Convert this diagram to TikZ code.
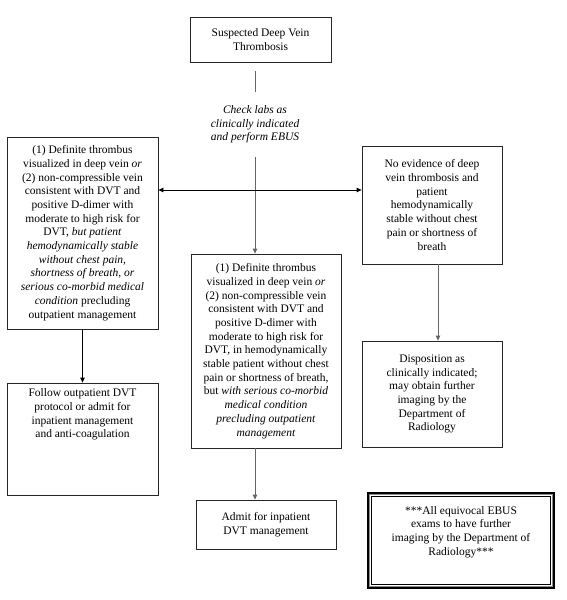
\documentclass[tikz,border=0pt]{standalone}
\usepackage{fontspec}
\setmainfont{Liberation Serif}
\usetikzlibrary{arrows.meta,calc}
\begin{document}
\begin{tikzpicture}[x=1pt,y=-1pt,
  txt/.style={align=center, inner sep=0pt, font=\fontsize{11.5}{13.7}\selectfont},
  box/.style={txt, draw=black!85, line width=0.8pt},
  conn/.style={draw=black!60, line width=0.8pt},
  arr/.style={conn, -{Triangle[length=5pt,width=4.5pt]}},
  darr/.style={arr, draw=black},
  harr/.style={draw=black, line width=0.8pt, {Triangle[length=5pt,width=4.5pt]}-{Triangle[length=5pt,width=4.5pt]}},
]
\useasboundingbox (0,0) rectangle (566,600);

% boxes
\node[box, minimum width=141, minimum height=45] (top) at (260.5,39.5)
  {Suspected Deep Vein\\Thrombosis};

\node[txt, font=\fontsize{11.5}{13.7}\selectfont\itshape, minimum height=65] (check) at (255,124.5)
  {Check labs as\\clinically indicated\\and perform EBUS};

\node[box, minimum width=151, minimum height=192] (left) at (82.5,233)
  {(1) Definite thrombus\\
   visualized in deep vein \textit{or}\\
   (2) non-compressible vein\\
   consistent with DVT and\\
   positive D-dimer with\\
   moderate to high risk for\\
   DVT, \textit{but patient}\\
   \textit{hemodynamically stable}\\
   \textit{without chest pain,}\\
   \textit{shortness of breath, or}\\
   \textit{serious co-morbid medical}\\
   \textit{condition} precluding\\
   outpatient management};

\node[box, minimum width=140, minimum height=118] (right) at (432,205)
  {No evidence of deep\\
   vein thrombosis and\\
   patient\\
   hemodynamically\\
   stable without chest\\
   pain or shortness of\\
   breath};

\node[box, minimum width=150, minimum height=194] (mid) at (266,351)
  {(1) Definite thrombus\\
   visualized in deep vein \textit{or}\\
   (2) non-compressible vein\\
   consistent with DVT and\\
   positive D-dimer with\\
   moderate to high risk for\\
   DVT, in hemodynamically\\
   stable patient without chest\\
   pain or shortness of breath,\\
   but \textit{with serious co-morbid}\\
   \textit{medical condition}\\
   \textit{precluding outpatient}\\
   \textit{management}};

\node[box, minimum width=151, minimum height=112] (bl) at (82.5,439) {};
\node[txt, anchor=north] (bltext) at ($(bl.north)+(0,6)$)
  {Follow outpatient DVT\\
   protocol or admit for\\
   inpatient management\\
   and anti-coagulation};

\node[box, minimum width=140, minimum height=106] (disp) at (432,394)
  {Disposition as\\
   clinically indicated;\\
   may obtain further\\
   imaging by the\\
   Department of\\
   Radiology};

\node[box, minimum width=140, minimum height=49] (admit) at (266,524.5)
  {Admit for inpatient\\DVT management};

% note box with triple frame
\node[draw=black, line width=2pt, minimum width=186, minimum height=95, inner sep=0pt] (note) at (461,540.5) {};
\draw[draw=black!45, line width=1.6pt] ($(note.north west)+(2.6,2.6)$) rectangle ($(note.south east)+(-2.6,-2.6)$);
\draw[draw=black, line width=0.8pt] ($(note.north west)+(4.6,4.6)$) rectangle ($(note.south east)+(-4.6,-4.6)$);
\node[txt] (notetext) at (461,532)
  {***All equivocal EBUS\\
   exams to have further\\
   imaging by the Department of\\
   Radiology***};

% connectors
\coordinate (t1) at (255,71);
\draw[conn] (t1) -- (check.north);
\draw[arr] (check.south) -- (check.south |- mid.north);
\coordinate (h) at (255,190);
\draw[harr] (h -| left.east) -- (h -| right.west);
\draw[darr] (left.south) -- (bl.north);
\coordinate (rx) at (438,0);
\draw[arr] (rx |- right.south) -- (rx |- disp.north);
\draw[arr] (check.south |- mid.south) -- (check.south |- admit.north);
\end{tikzpicture}
\end{document}
